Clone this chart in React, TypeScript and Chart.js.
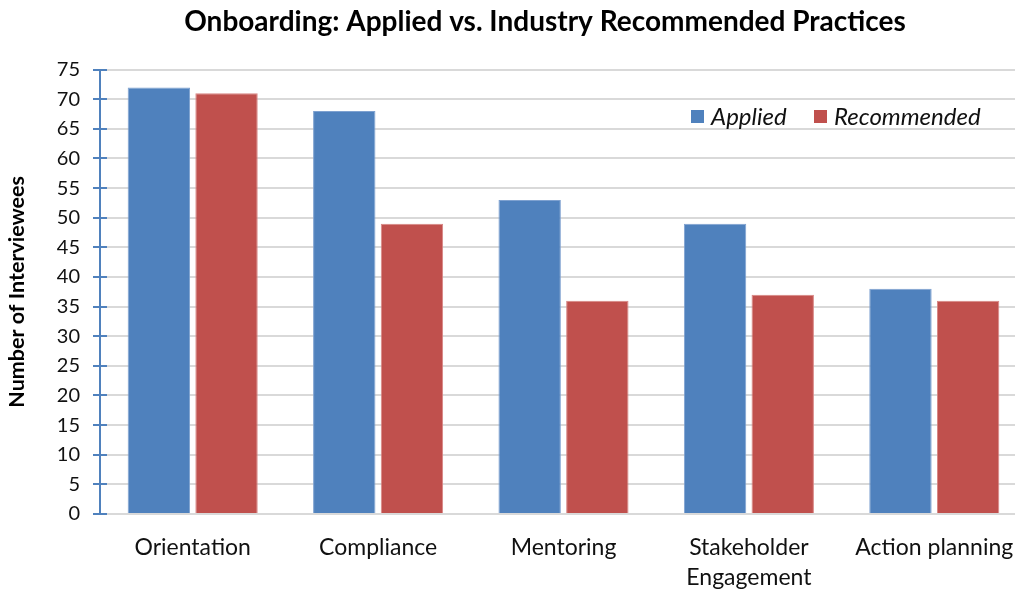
import React, { useEffect, useRef } from "react";
import { Chart, registerables } from "chart.js";

Chart.register(...registerables);

const categories: (string | string[])[] = [
  "Orientation",
  "Compliance",
  "Mentoring",
  ["Stakeholder", "Engagement"],
  "Action planning",
];
const appliedValues = [72, 68, 53, 49, 38];
const recommendedValues = [71, 49, 36, 37, 36];
const seriesNames = ["Applied", "Recommended"];
const chartTitle = "Onboarding: Applied vs. Industry Recommended Practices";
const yAxisTitle = "Number of Interviewees";

const BLUE = "#4f81bd";
const RED = "#c0504d";
const FONT = "Lato, 'Open Sans', sans-serif";

export default function App() {
  const ref = useRef<HTMLCanvasElement | null>(null);

  useEffect(() => {
    if (!ref.current) return;

    const overlay = {
      id: "overlay",
      afterDraw(chart: any) {
        const ctx = chart.ctx;
        const y = chart.scales.y;
        const area = chart.chartArea;
        ctx.save();
        // inner half of y-axis ticks
        ctx.strokeStyle = BLUE;
        ctx.lineWidth = 2;
        y.ticks.forEach((t: any) => {
          const py = Math.round(y.getPixelForValue(t.value));
          ctx.beginPath();
          ctx.moveTo(area.left, py);
          ctx.lineTo(area.left + 7, py);
          ctx.stroke();
        });
        // legend
        const colors = [BLUE, RED];
        const xs = [691, 814];
        ctx.font = "italic 24px " + FONT;
        ctx.textBaseline = "middle";
        seriesNames.forEach((name, i) => {
          ctx.fillStyle = colors[i];
          ctx.fillRect(xs[i], 110, 13, 13);
          ctx.fillStyle = "#111";
          ctx.fillText(name, xs[i] + 20, 117);
        });
        ctx.restore();
      },
    };

    const chart = new Chart(ref.current, {
      type: "bar",
      data: {
        labels: categories,
        datasets: [
          {
            label: seriesNames[0],
            data: appliedValues,
            backgroundColor: BLUE,
            borderColor: "#7ea1d0",
            borderWidth: 1,
          },
          {
            label: seriesNames[1],
            data: recommendedValues,
            backgroundColor: RED,
            borderColor: "#d88583",
            borderWidth: 1,
          },
        ],
      },
      options: {
        animation: false,
        responsive: false,
        maintainAspectRatio: false,
        layout: { padding: 0 },
        datasets: {
          bar: { categoryPercentage: 0.73, barPercentage: 0.922 },
        },
        plugins: {
          legend: { display: false },
          tooltip: { enabled: false },
          title: {
            display: true,
            text: chartTitle,
            color: "#000",
            font: { family: FONT, size: 28, weight: "bold", lineHeight: 1.2 },
            padding: { top: 5, bottom: 31 },
          },
        },
        scales: {
          x: {
            grid: { display: false, drawTicks: false },
            border: { display: true, color: "#d9d9d9", width: 2 },
            ticks: {
              color: "#111",
              font: { family: FONT, size: 23, lineHeight: 1.3 },
              padding: 19,
              maxRotation: 0,
              autoSkip: false,
            },
            afterFit(scale: any) {
              scale.height = 76;
            },
          },
          y: {
            min: 0,
            max: 75,
            ticks: {
              stepSize: 5,
              color: "#111",
              font: { family: FONT, size: 20 },
              padding: 13,
            },
            grid: {
              color: "#d9d9d9",
              lineWidth: 2,
              tickColor: BLUE,
              tickLength: 7,
              tickWidth: 2,
            },
            border: { display: true, color: BLUE, width: 2 },
            title: {
              display: true,
              text: yAxisTitle,
              color: "#000",
              font: { family: FONT, size: 21.5, weight: "bold" },
              padding: { top: 4, bottom: 0 },
            },
            afterFit(scale: any) {
              scale.width = 100;
            },
          },
          yR: {
            position: "right",
            display: true,
            grid: { display: false, drawTicks: false },
            border: { display: false },
            ticks: { display: false },
            afterFit(scale: any) {
              scale.width = 63;
            },
          },
        },
      },
      plugins: [overlay],
    });

    return () => chart.destroy();
  }, []);

  return (
    <div
      style={{
        position: "absolute",
        left: 0,
        top: 0,
        width: 1015,
        height: 590,
        overflow: "hidden",
        background: "#fff",
      }}
    >
      <canvas ref={ref} width={1090} height={590} style={{ display: "block" }} />
    </div>
  );
}
